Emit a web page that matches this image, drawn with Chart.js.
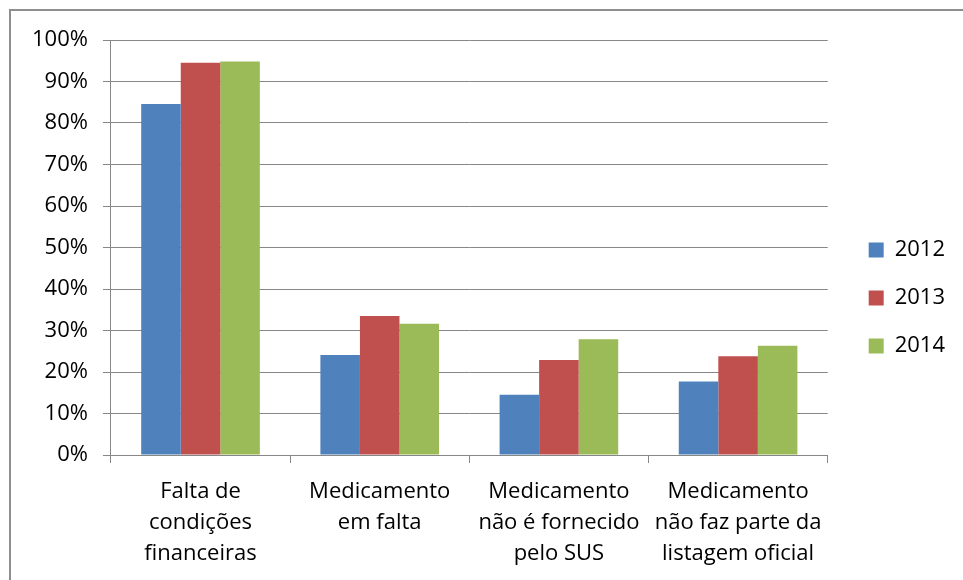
<!DOCTYPE html>
<html><head><meta charset="utf-8">
<script src="https://cdn.jsdelivr.net/npm/chart.js@4/dist/chart.umd.min.js"></script>
<style>
html,body{margin:0;padding:0;background:#fff;overflow:hidden;width:963px;height:580px;}
#wrap{position:relative;width:963px;height:580px;}
#frame{position:absolute;left:9px;top:9px;width:1000px;height:1000px;border-left:2px solid #8e8e8e;border-top:2px solid #8e8e8e;pointer-events:none;}
canvas{position:absolute;left:0;top:0;}
</style></head><body>
<div id="wrap"><canvas id="c" width="963" height="580"></canvas><div id="frame"></div></div>
<script>
const categories = [
  ["Falta de", "condições", "financeiras"],
  ["Medicamento", "em falta"],
  ["Medicamento", "não é fornecido", "pelo SUS"],
  ["Medicamento", "não faz parte da", "listagem oficial"]
];
const seriesNames = ["2012", "2013", "2014"];
const values2012 = [0.846, 0.241, 0.145, 0.177];
const values2013 = [0.945, 0.335, 0.229, 0.238];
const values2014 = [0.948, 0.316, 0.279, 0.263];
const seriesColors = ["#4F81BD", "#C0504D", "#9BBB59"];
const yTickLabels = ["0%", "10%", "20%", "30%", "40%", "50%", "60%", "70%", "80%", "90%", "100%"];

const FONT = "'Open Sans'";
const gridColor = "#878787";
const allValues = [values2012, values2013, values2014];

new Chart(document.getElementById('c'), {
  type: 'bar',
  data: {
    labels: categories,
    datasets: seriesNames.map((name, i) => ({
      label: name,
      data: allValues[i],
      backgroundColor: seriesColors[i],
      borderWidth: 0,
      yAxisID: 'y',
      categoryPercentage: 0.662,
      barPercentage: 1.0
    }))
  },
  options: {
    responsive: false,
    devicePixelRatio: 1,
    animation: false,
    layout: { padding: { left: 17, right: 8, top: 14, bottom: -2 } },
    plugins: {
      tooltip: { enabled: false },
      title: { display: true, text: '', padding: 0, font: { size: 26, lineHeight: 1 } },
      legend: {
        position: 'right',
        labels: {
          boxWidth: 15,
          boxHeight: 15,
          padding: 26,
          color: '#000',
          font: { family: FONT, size: 22 }
        }
      }
    },
    scales: {
      x: {
        grid: { display: true, drawOnChartArea: false, drawTicks: true, tickLength: 8, color: gridColor, offset: true },
        border: { display: true, color: gridColor, width: 1 },
        ticks: {
          color: '#000',
          autoSkip: false,
          maxRotation: 0,
          minRotation: 0,
          padding: 13,
          font: { family: FONT, size: 22, lineHeight: '31px' }
        }
      },
      y: {
        type: 'linear',
        position: 'left',
        min: 0,
        max: 1,
        grid: { color: gridColor, tickLength: 8, lineWidth: 1 },
        border: { display: true, color: gridColor, width: 1 },
        ticks: {
          stepSize: 0.1,
          padding: 15,
          color: '#000',
          font: { family: FONT, size: 22 },
          callback: (v, i) => yTickLabels[i]
        }
      },
      yR: {
        type: 'linear',
        position: 'right',
        display: true,
        grid: { display: false },
        border: { display: false },
        ticks: { display: false },
        afterFit: (s) => { s.width = 15; }
      }
    }
  }
});
</script>
</body></html>
